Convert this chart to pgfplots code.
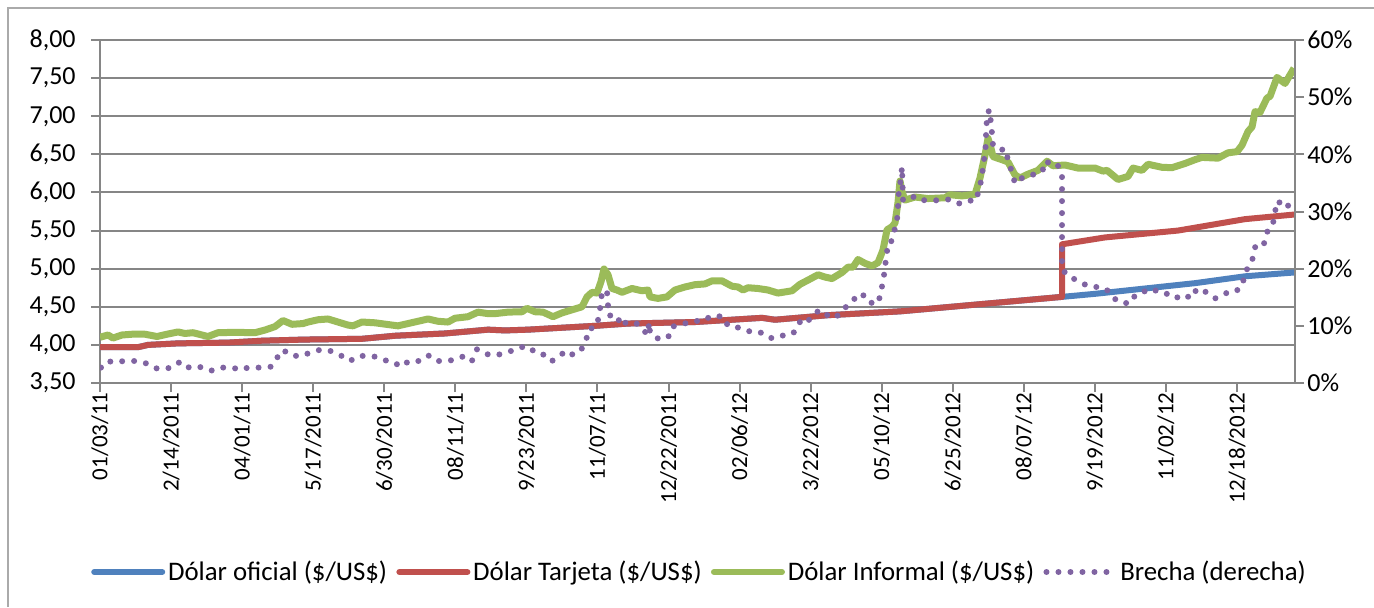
\documentclass[border=0pt]{standalone}
\usepackage{pgfplots}
\pgfplotsset{compat=1.18}
\usepackage{fontspec}
\setmainfont{Carlito}
\definecolor{cBlue}{HTML}{4F81BD}
\definecolor{cRed}{HTML}{C0504D}
\definecolor{cGreen}{HTML}{9BBB59}
\definecolor{cPurple}{HTML}{8064A2}
\definecolor{cGrid}{HTML}{868686}

\pgfplotsset{
  myaxis/.style={
    at={(0pt,0pt)}, anchor=south west,
    scale only axis, width=597.5pt, height=171.5pt,
    xmin=0, xmax=1195,
    font=\fontsize{13}{15}\selectfont,
    /pgf/number format/assume math mode=true,
    tick align=outside, major tick length=4.5pt,
    tick style={cGrid, line width=1pt},
    axis line style={cGrid, line width=1pt},
  }
}

\begin{document}
\begin{tikzpicture}
\useasboundingbox (-50pt,-112pt) rectangle (637pt,191.5pt);
\draw[cGrid!70, line width=1pt] (-46pt,-112pt) -- (-46pt,187.5pt) -- (637pt,187.5pt);

\begin{axis}[myaxis,
  ymin=3.5, ymax=8, ytick={3.5,4,4.5,5,5.5,6,6.5,7,7.5,8},
  axis x line*=bottom, axis y line*=left,
  ymajorgrids, grid style={cGrid, line width=1pt},
  xtick={0,71.06,142.12,213.19,284.25,355.31,426.37,497.44,568.5,639.56,710.62,781.69,852.75,923.81,994.87,1065.94,1137},
  xticklabels={01/03/11,2/14/2011,04/01/11,5/17/2011,6/30/2011,08/11/11,9/23/2011,11/07/11,12/22/2011,02/06/12,3/22/2012,05/10/12,6/25/2012,08/07/12,9/19/2012,11/02/12,12/18/2012},
  xticklabel style={rotate=90, anchor=east, inner sep=0pt, font=\fontsize{11.5}{13}\selectfont},
  yticklabel style={inner sep=0pt, /pgf/number format/.cd, fixed, fixed zerofill, precision=2, use comma},
  yticklabel shift=7.5pt,
]
% Dolar oficial
\addplot[cBlue, line width=3pt, line join=round] coordinates {
(0,3.97) (38,3.97) (48,4.00) (78,4.02) (128,4.03) (162,4.055) (205,4.07) (262,4.08)
(295,4.12) (345,4.15) (388,4.20) (405,4.19) (428,4.20) (495,4.25) (528,4.28) (595,4.30)
(662,4.355) (675,4.33) (728,4.39) (800,4.44) (962,4.63)
(995,4.67) (1095,4.81) (1145,4.90) (1194,4.95)
};
% Dolar tarjeta
\addplot[cRed, line width=3pt, line join=round] coordinates {
(0,3.97) (38,3.97) (48,4.00) (78,4.02) (128,4.03) (162,4.055) (205,4.07) (262,4.08)
(295,4.12) (345,4.15) (388,4.20) (405,4.19) (428,4.20) (495,4.25) (528,4.28) (595,4.30)
(662,4.355) (675,4.33) (728,4.39) (800,4.44) (962,4.63)
(962,5.32) (1005,5.41) (1078,5.50) (1145,5.65) (1194,5.71)
};
% Dolar informal
\addplot[cGreen, line width=3.5pt, line join=round] coordinates {
(0,4.10) (8,4.13) (13,4.09) (22,4.13) (32,4.14) (45,4.14) (57,4.11) (67,4.14) (78,4.17)
(85,4.15) (93,4.16) (108,4.11) (118,4.16) (135,4.165) (155,4.16) (165,4.195) (175,4.24)
(183,4.32) (192,4.27) (203,4.28) (208,4.30) (218,4.33) (228,4.34) (238,4.30) (248,4.26)
(253,4.25) (262,4.30) (275,4.29) (292,4.26) (298,4.25) (308,4.28) (318,4.31) (328,4.34)
(338,4.31) (348,4.30) (355,4.35) (368,4.37) (378,4.43) (388,4.41) (395,4.41) (408,4.43)
(422,4.435) (427,4.48) (435,4.435) (443,4.43) (453,4.37) (462,4.42) (472,4.46) (482,4.50)
(487,4.63) (492,4.69) (497,4.68) (501,4.83) (504,4.996) (508,4.92) (512,4.74) (517,4.72)
(522,4.69) (532,4.74) (542,4.71) (548,4.72) (550,4.63) (558,4.61) (567,4.63) (575,4.72)
(585,4.76) (595,4.79) (605,4.80) (612,4.84) (622,4.84) (632,4.77) (638,4.76) (643,4.72)
(648,4.75) (658,4.74) (668,4.72) (678,4.68) (692,4.71) (700,4.795) (708,4.85) (718,4.92)
(725,4.89) (732,4.87) (742,4.95) (748,5.02) (753,5.02) (758,5.12) (765,5.07) (772,5.035)
(778,5.08) (783,5.245) (787,5.51) (792,5.55) (795,5.60) (798,5.87) (800,6.15) (802,6.01)
(805,5.90) (815,5.94) (828,5.92) (845,5.93) (850,5.97) (862,5.955) (875,5.975) (880,6.19)
(885,6.49) (888,6.71) (891,6.58) (893,6.47) (902,6.43) (908,6.40) (915,6.23) (920,6.19)
(928,6.24) (938,6.29) (947,6.41) (953,6.35) (965,6.36) (978,6.32) (995,6.32) (1003,6.28)
(1007,6.29) (1018,6.17) (1028,6.21) (1033,6.32) (1042,6.29) (1048,6.37) (1062,6.33)
(1072,6.325) (1085,6.38) (1095,6.43) (1102,6.46) (1118,6.45) (1128,6.52) (1137,6.535)
(1142,6.62) (1148,6.80) (1152,6.86) (1155,7.06) (1160,7.05) (1167,7.24) (1170,7.26)
(1177,7.51) (1185,7.43) (1194,7.63)
};
\end{axis}

\begin{axis}[myaxis,
  ymin=0, ymax=60, ytick={0,10,20,30,40,50,60},
  axis x line=none, axis y line*=right,
  yticklabel={\pgfmathprintnumber{\tick}\%},
  yticklabel style={inner sep=0pt},
  yticklabel shift=1.5pt,
  legend columns=4,
  legend style={at={(0.502,-0.551)}, anchor=center, draw=none, fill=none,
    font=\fontsize{13.4}{15}\selectfont, nodes={inner sep=1.4pt},
    /tikz/every even column/.append style={column sep=3.2pt}},
  legend image code/.code={\draw[#1, line width=3pt, line cap=round] (0pt,0pt) -- (34pt,0pt);},
]
\addlegendimage{cBlue}
\addlegendentry{Dólar oficial (\$/US\$)}
\addlegendimage{cRed}
\addlegendentry{Dólar Tarjeta (\$/US\$)}
\addlegendimage{cGreen}
\addlegendentry{Dólar Informal (\$/US\$)}
\addplot[cPurple, line width=3pt, line cap=round, line join=round, dash pattern=on 0pt off 6pt] coordinates {
(1,2.7) (8,3.85) (14,3.6) (24,3.85) (37,3.85) (47,3.4) (55,2.6) (62,2.45) (72,2.7) (80,3.7)
(88,2.7) (93,3.0) (103,2.7) (111,2.15) (120,2.7) (132,2.7) (141,2.3) (148,2.7) (159,2.7)
(171,2.85) (177,4.4) (183,5.8) (191,4.8) (202,4.7) (212,5.5) (223,5.9) (233,5.5) (242,4.7)
(250,3.85) (258,4.7) (270,4.8) (280,4.4) (289,3.7) (293,3.7) (301,2.85) (309,3.85) (321,3.85)
(329,4.8) (337,3.85) (348,3.85) (354,4.1) (358,4.25) (365,4.8) (372,3.9) (377,5.9) (385,5.1)
(396,4.8) (406,5.4) (416,5.8) (425,6.5) (432,5.8) (440,4.9) (445,5.0) (452,3.85) (460,4.9)
(468,5.65) (473,4.9) (481,5.8) (486,7.2) (488,9.3) (497,10.0) (499,12.0) (501,14.0) (502,16.1)
(507,16.0) (508,13.9) (508,11.9) (513,11.7) (518,11.7) (520,10.0) (528,10.8) (538,10.3)
(544,9.1) (548,8.5) (549,10.6) (550,8.9) (556,7.8) (568,7.9) (572,9.85) (583,10.3) (592,10.85)
(603,10.85) (612,11.8) (623,11.6) (628,10.0) (638,9.7) (645,9.45) (652,8.8) (663,8.8)
(672,7.8) (682,8.3) (689,8.3) (695,9.0) (700,10.7) (706,10.3) (712,11.8) (720,12.8) (728,11.8)
(734,11.3) (742,12.4) (748,13.8) (755,14.8) (762,15.7) (768,14.1) (778,13.9) (781,15.9)
(783,17.9) (785,19.9) (786,22.0) (788,24.0) (790,24.0) (793,25.9) (796,27.6) (798,29.7)
(798,31.7) (799,33.8) (801,35.8) (802,37.8) (803,32.0) (807,31.9) (815,32.7) (822,32.0)
(833,31.9) (844,32.1) (850,32.1) (859,31.4) (865,31.9) (876,31.9) (879,33.9) (882,36.0)
(883,38.0) (885,40.1) (886,42.1) (886,44.1) (887,46.2) (889,47.8) (891,45.6) (892,43.6)
(893,41.5) (901,40.8) (906,40.9) (908,38.8) (912,36.9) (915,34.9) (923,36.0) (932,36.4)
(942,36.9) (946,38.9) (953,37.8) (958,38.0) (962,36.4) (962,19.9) (969,18.6) (978,17.9)
(984,17.3) (991,16.8) (1002,16.8) (1010,15.9) (1016,14.5) (1022,14.4) (1028,13.8) (1034,15.1)
(1041,15.4) (1046,16.3) (1053,16.4) (1062,15.6) (1067,15.6) (1075,14.8) (1084,15.5)
(1091,14.8) (1097,16.5) (1101,16.4) (1107,15.8) (1115,14.8) (1120,15.1) (1127,15.8)
(1137,16.1) (1140,17.6) (1144,18.0) (1147,19.9) (1152,21.2) (1154,23.3) (1157,24.5)
(1164,24.4) (1167,26.3) (1169,27.3) (1173,27.9) (1175,30.0) (1178,31.9) (1184,30.6)
(1188,31.0) (1193,32.6)
};
\addlegendentry{Brecha (derecha)}
\end{axis}
\end{tikzpicture}
\end{document}
